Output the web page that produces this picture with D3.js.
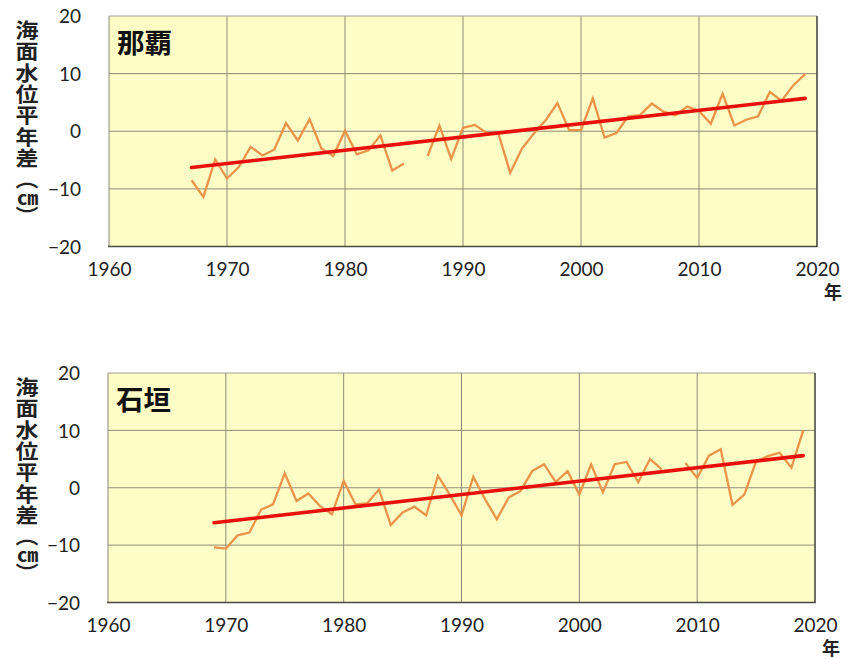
<!DOCTYPE html>
<html>
<head>
<meta charset="utf-8">
<script src="https://cdn.jsdelivr.net/npm/d3@7"></script>
<style>
  html, body { margin: 0; padding: 0; background: #ffffff; }
  #wrap { position: relative; width: 848px; height: 659px; }
  svg { display: block; position: absolute; left: 0; top: 0; }
  .ytitle {
    position: absolute;
    writing-mode: vertical-rl;
    text-orientation: mixed;
    font-family: 'Noto Sans CJK JP', 'Noto Sans CJK SC', sans-serif;
    font-weight: 700;
    font-size: 20.5px;
    line-height: 24px;
    width: 24px;
    letter-spacing: 0.8px;
    color: #222;
    white-space: nowrap;
    transform: scaleX(1.12);
    transform-origin: 50% 0;
  }
  .ytitle .paren { letter-spacing: -3px; }
  .ytitle .unit { text-combine-upright: all; letter-spacing: 0; font-size: 19px; }
</style>
</head>
<body>
<div id="wrap"><svg id="chart" width="848" height="659"></svg></div>
<script>
// Annual mean sea level anomaly (cm) at two tide stations, 1960-2020 axis

const xTicks = [1960, 1970, 1980, 1990, 2000, 2010, 2020];
const yTicks = [-20, -10, 0, 10, 20];
const yAxisTitle = "海面水位平年差";
const yAxisUnit = "cm";
const yearUnit = "年";

// 那覇 (Naha): 1967-2019, no value for 1986
const nahaYears = d3.range(1967, 2020);
const nahaValues = [
  -8.5, -11.4, -4.9, -8.2, -6.2, -2.7, -4.2, -3.2, 1.4, -1.6,
   2.1, -3.0, -4.3, 0.1, -4.0, -3.3, -0.7, -6.8, -5.6, null,
  -4.3, 1.0, -4.8, 0.6, 1.1, -0.3, -0.4, -7.2, -3.0, -0.4,
   1.9, 4.9, 0.2, 0.2, 5.7, -1.1, -0.3, 2.6, 2.8, 4.8,
   3.4, 2.8, 4.3, 3.5, 1.3, 6.5, 1.0, 2.0, 2.6, 6.8,
   5.3, 8.0, 9.9
];
const nahaTrendYears = [1967, 2019];
const nahaTrendValues = [-6.3, 5.7];

// 石垣 (Ishigaki): 1969-2019, no value for 2008
const ishigakiYears = d3.range(1969, 2020);
const ishigakiValues = [
  -10.4, -10.6, -8.3, -7.8, -3.8, -2.9, 2.5, -2.3, -1.0, -3.2,
   -4.6, 1.2, -2.9, -2.7, -0.3, -6.5, -4.3, -3.3, -4.8, 2.1,
   -1.2, -4.8, 1.9, -2.0, -5.5, -1.7, -0.6, 2.9, 4.1, 1.0,
    2.9, -1.2, 4.1, -0.8, 4.1, 4.5, 1.0, 5.0, 3.2, null,
    4.3, 1.7, 5.6, 6.7, -3.0, -1.2, 4.6, 5.5, 6.1, 3.5,
   10.0
];
const ishigakiTrendYears = [1969, 2019];
const ishigakiTrendValues = [-6.1, 5.6];

const panels = [
  { name: "那覇", years: nahaYears, values: nahaValues,
    trendYears: nahaTrendYears, trendValues: nahaTrendValues,
    left: 109, right: 817, top: 16, bottom: 246.5 },
  { name: "石垣", years: ishigakiYears, values: ishigakiValues,
    trendYears: ishigakiTrendYears, trendValues: ishigakiTrendValues,
    left: 108, right: 815, top: 373, bottom: 602.5 }
];

const svg = d3.select("#chart");
const wrap = d3.select("#wrap");
const numFont = "Lato, 'Open Sans', 'Noto Sans', sans-serif";
const cjkFont = "'Noto Sans CJK JP', 'Noto Sans CJK SC', sans-serif";

panels.forEach(p => {
  const x = d3.scaleLinear().domain([1960, 2020]).range([p.left, p.right]);
  const y = d3.scaleLinear().domain([-20, 20]).range([p.bottom, p.top]);
  const g = svg.append("g");

  // plot background
  g.append("rect")
    .attr("x", p.left).attr("y", p.top)
    .attr("width", p.right - p.left).attr("height", p.bottom - p.top)
    .attr("fill", "#fffdc6");

  // grid lines
  g.append("g").selectAll("line")
    .data(xTicks.slice(1, -1)).join("line")
    .attr("x1", d => x(d)).attr("x2", d => x(d))
    .attr("y1", p.top).attr("y2", p.bottom)
    .attr("stroke", "#8e8b7c").attr("stroke-width", 1);
  g.append("g").selectAll("line")
    .data(yTicks.slice(1, -1)).join("line")
    .attr("x1", p.left).attr("x2", p.right)
    .attr("y1", d => y(d)).attr("y2", d => y(d))
    .attr("stroke", "#8e8b7c").attr("stroke-width", 1);

  // frame
  g.append("line").attr("x1", p.left).attr("x2", p.right)
    .attr("y1", p.top).attr("y2", p.top)
    .attr("stroke", "#a09e94").attr("stroke-width", 1);
  g.append("line").attr("x1", p.left).attr("x2", p.left)
    .attr("y1", p.top).attr("y2", p.bottom)
    .attr("stroke", "#8a887e").attr("stroke-width", 1);
  g.append("line").attr("x1", p.right).attr("x2", p.right)
    .attr("y1", p.top).attr("y2", p.bottom)
    .attr("stroke", "#4a4a44").attr("stroke-width", 1.6);
  g.append("line").attr("x1", p.left - 1).attr("x2", p.right + 0.8)
    .attr("y1", p.bottom).attr("y2", p.bottom)
    .attr("stroke", "#4a4a44").attr("stroke-width", 1.6);

  // y axis tick labels
  const yAxis = d3.axisLeft(y).tickValues(yTicks).tickSize(0).tickPadding(0)
    .tickFormat(d3.format("d"));
  const ya = g.append("g").attr("transform", `translate(${p.left - 28},0)`).call(yAxis);
  ya.select(".domain").remove();
  ya.selectAll("text").attr("font-family", numFont).attr("font-size", 19)
    .attr("fill", "#222").attr("dy", "0.35em");

  // x axis tick labels
  const xAxis = d3.axisBottom(x).tickValues(xTicks).tickSize(0).tickPadding(0)
    .tickFormat(d3.format("d"));
  const xa = g.append("g").attr("transform", `translate(0,${p.bottom + 16})`).call(xAxis);
  xa.select(".domain").remove();
  xa.selectAll("text").attr("font-family", numFont).attr("font-size", 19)
    .attr("fill", "#222");

  // unit label under the last year
  g.append("text")
    .attr("x", x(2020) + 16).attr("y", p.bottom + 46)
    .attr("text-anchor", "middle").attr("dy", "0.35em")
    .attr("font-family", cjkFont).attr("font-size", 18).attr("font-weight", 700)
    .attr("fill", "#222").text(yearUnit);

  // vertical axis title written top to bottom
  const t = wrap.append("div").attr("class", "ytitle")
    .style("left", "15px")
    .style("top", (p.top + 4) + "px");
  t.append("span").text(yAxisTitle);
  t.append("span").attr("class", "paren").text("（");
  t.append("span").attr("class", "unit").text(yAxisUnit);
  t.append("span").attr("class", "paren").text("）");

  // station name
  g.append("text")
    .attr("x", p.left + 8).attr("y", p.top + 27)
    .attr("dy", "0.35em")
    .attr("font-family", cjkFont).attr("font-size", 27.5).attr("font-weight", 700)
    .attr("fill", "#111").text(p.name);

  // annual anomaly series
  const series = p.years.map((yr, i) => ({ year: yr, value: p.values[i] }));
  const line = d3.line()
    .defined(d => d.value !== null)
    .x(d => x(d.year)).y(d => y(d.value));
  g.append("path").datum(series)
    .attr("d", line)
    .attr("fill", "none")
    .attr("stroke", "#ea944a").attr("stroke-width", 2.3)
    .attr("stroke-linejoin", "miter");

  // linear trend
  const trend = p.trendYears.map((yr, i) => ({ year: yr, value: p.trendValues[i] }));
  g.append("path").datum(trend)
    .attr("d", line)
    .attr("fill", "none")
    .attr("stroke", "#e8100c").attr("stroke-width", 3.6)
    .attr("stroke-linecap", "round");
});
</script>
</body>
</html>
